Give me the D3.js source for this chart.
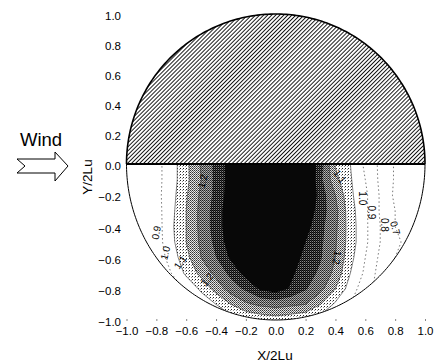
<!DOCTYPE html>
<html>
<head>
<meta charset="utf-8">
<script src="https://cdn.jsdelivr.net/npm/d3@7"></script>
<style>
  body { margin: 0; background: #fff; }
  text { font-family: Arial, "Liberation Sans", sans-serif; }
</style>
</head>
<body>
<svg id="chart" width="443" height="364"></svg>
<script>
const gridX = [-1.0, -0.9, -0.8, -0.7, -0.6, -0.5, -0.4, -0.3, -0.2, -0.1, 0.0,
               0.1, 0.2, 0.3, 0.4, 0.5, 0.6, 0.7, 0.8, 0.9, 1.0];
const gridY = [0.0, -0.1, -0.2, -0.3, -0.4, -0.5, -0.6, -0.7, -0.8, -0.9, -1.0];
const ratio = [
  [0.80,0.82,0.87,0.95,1.075,1.21,1.33,1.45,1.55,1.60,1.60,1.60,1.52,1.35,1.09,1.00,0.88,0.78,0.69,0.66,0.64],
  [0.80,0.82,0.87,0.95,1.075,1.20,1.33,1.45,1.56,1.62,1.62,1.62,1.54,1.33,1.13,1.01,0.90,0.78,0.69,0.66,0.64],
  [0.80,0.82,0.87,0.96,1.09,1.22,1.33,1.46,1.57,1.63,1.64,1.62,1.52,1.36,1.20,1.02,0.92,0.79,0.68,0.65,0.63],
  [0.80,0.82,0.86,0.97,1.10,1.23,1.35,1.47,1.57,1.63,1.64,1.60,1.48,1.35,1.23,1.04,0.92,0.79,0.70,0.66,0.64],
  [0.79,0.81,0.85,0.98,1.10,1.23,1.35,1.47,1.56,1.62,1.62,1.57,1.44,1.33,1.22,1.05,0.92,0.80,0.70,0.66,0.64],
  [0.79,0.81,0.85,0.97,1.10,1.22,1.33,1.46,1.55,1.60,1.59,1.52,1.40,1.32,1.21,1.05,0.92,0.80,0.72,0.67,0.65],
  [0.78,0.80,0.84,0.94,1.07,1.20,1.30,1.42,1.51,1.55,1.53,1.46,1.37,1.31,1.20,1.03,0.90,0.78,0.70,0.66,0.64],
  [0.76,0.78,0.82,0.90,1.02,1.13,1.23,1.33,1.44,1.49,1.49,1.42,1.35,1.28,1.17,1.00,0.88,0.76,0.70,0.66,0.64],
  [0.74,0.76,0.80,0.83,0.92,1.02,1.14,1.25,1.32,1.42,1.45,1.39,1.31,1.23,1.10,0.95,0.84,0.76,0.70,0.66,0.64],
  [0.70,0.72,0.74,0.78,0.85,0.93,1.00,1.10,1.18,1.22,1.24,1.22,1.20,1.10,0.98,0.90,0.82,0.76,0.70,0.66,0.64],
  [0.66,0.68,0.70,0.72,0.76,0.82,0.88,0.95,1.00,1.03,1.05,1.03,1.00,0.95,0.88,0.82,0.76,0.72,0.68,0.66,0.64]
];
const levels = [0.7, 0.8, 0.9, 1.0, 1.1, 1.2, 1.3, 1.4];
const xTicks = [-1.0, -0.8, -0.6, -0.4, -0.2, 0.0, 0.2, 0.4, 0.6, 0.8, 1.0];
const yTicks = [-1.0, -0.8, -0.6, -0.4, -0.2, 0.0, 0.2, 0.4, 0.6, 0.8, 1.0];
// contour labels: text, place (data units), rotation
const labelText = ["1.2", "1.1", "1.0", "0.9", "0.8", "0.7", "0.9", "1.0", "1.1", "1.2", "1.2"];
const labelX    = [-0.49, 0.43, 0.58, 0.64, 0.73, 0.80, -0.80, -0.74, -0.64, -0.46, 0.41];
const labelY    = [-0.11, -0.08, -0.22, -0.31, -0.39, -0.41, -0.44, -0.57, -0.63, -0.74, -0.60];
const labelRot  = [-75, 55, 90, 90, 90, 75, -80, -75, -55, -50, 100];

var svg = d3.select("#chart");

var x = d3.scaleLinear().domain([-1, 1]).range([126.5, 425]);
var y = d3.scaleLinear().domain([-1, 0, 1]).range([320, 164, 14]);

var defs = svg.append("defs");

// halftone fills, one per band
function halftone(id, w, h, cells) {
  var p = defs.append("pattern")
      .attr("id", id)
      .attr("patternUnits", "userSpaceOnUse")
      .attr("width", w).attr("height", h);
  cells.forEach(function(c) {
    p.append("rect").attr("x", c[0]).attr("y", c[1])
      .attr("width", 1).attr("height", 1)
      .attr("fill", c[2]).attr("shape-rendering", "crispEdges");
  });
}
halftone("p10", 3, 3, [[0,0,"#fff"],[1,0,"#fff"],[2,0,"#fff"],[0,1,"#fff"],[1,1,"#fff"],[2,1,"#fff"],[0,2,"#fff"],[1,2,"#fff"],[2,2,"#fff"],
                       [0,0,"#222"],[2,1,"#999"]]);
halftone("p11", 2, 2, [[0,0,"#333"],[1,0,"#ddd"],[0,1,"#eee"],[1,1,"#666"]]);
halftone("p12", 2, 2, [[0,0,"#222"],[1,0,"#999"],[0,1,"#bbb"],[1,1,"#444"]]);
halftone("p13", 2, 2, [[0,0,"#000"],[1,0,"#333"],[0,1,"#888"],[1,1,"#111"]]);

var hatch = defs.append("pattern")
    .attr("id", "hatch")
    .attr("patternUnits", "userSpaceOnUse")
    .attr("width", 2.85).attr("height", 2.85)
    .attr("patternTransform", "rotate(45)");
hatch.append("rect").attr("width", 2.85).attr("height", 2.85).attr("fill", "#fff");
hatch.append("line").attr("x1", 0.5).attr("y1", 0).attr("x2", 0.5).attr("y2", 2.85)
    .attr("stroke", "#111").attr("stroke-width", 0.95);

// circle outline, upper and lower half
var arc = d3.line().x(function(a) { return x(Math.cos(a)); }).y(function(a) { return y(Math.sin(a)); });
var upperAngles = d3.range(0, 181).map(function(d) { return d * Math.PI / 180; });
var lowerAngles = d3.range(180, 361).map(function(d) { return d * Math.PI / 180; });

defs.append("clipPath").attr("id", "lower")
  .append("path").attr("d", arc(lowerAngles) + "Z");

// contours
var nx = gridX.length, ny = gridY.length;
var stepX = gridX[1] - gridX[0], stepY = gridY[1] - gridY[0];
var contours = d3.contours().size([nx, ny]).thresholds(levels)(ratio.flat());
var proj = d3.geoTransform({
  point: function(px, py) {
    this.stream.point(x(gridX[0] + (px - 0.5) * stepX), y(gridY[0] + (py - 0.5) * stepY));
  }
});
var path = d3.geoPath(proj);

var fills = { "1": "url(#p10)", "1.1": "url(#p11)", "1.2": "url(#p12)", "1.3": "url(#p13)", "1.4": "#080808" };

var g = svg.append("g").attr("clip-path", "url(#lower)");

g.selectAll("path.band")
  .data(contours.filter(function(c) { return fills[String(c.value)]; }))
  .join("path")
    .attr("class", "band")
    .attr("d", path)
    .attr("fill", function(c) { return fills[String(c.value)]; })
    .attr("stroke", "none");

g.selectAll("path.iso")
  .data(contours.filter(function(c) { return c.value <= 1.2; }))
  .join("path")
    .attr("class", "iso")
    .attr("d", path)
    .attr("fill", "none")
    .attr("stroke", function(c) { return c.value < 1 ? "#555" : "#333"; })
    .attr("stroke-width", function(c) { return c.value < 1 ? 0.8 : 0.6; })
    .attr("stroke-dasharray", function(c) { return c.value < 1 ? "1.5,2.5" : null; });

// contour labels
svg.selectAll("text.clab")
  .data(labelText)
  .join("text")
    .attr("class", "clab")
    .attr("transform", function(d, i) {
      return "translate(" + x(labelX[i]) + "," + y(labelY[i]) + ") rotate(" + labelRot[i] + ")";
    })
    .attr("text-anchor", "middle")
    .attr("dy", "0.35em")
    .attr("font-size", 10)
    .attr("fill", "#000")
    .text(function(d) { return d; });

// upper hatched half
svg.append("path")
  .attr("d", arc(upperAngles) + "Z")
  .attr("fill", "url(#hatch)")
  .attr("stroke", "none");

svg.append("path")
  .attr("d", arc(lowerAngles))
  .attr("fill", "none").attr("stroke", "#000").attr("stroke-width", 1);
svg.append("path")
  .attr("d", arc(upperAngles))
  .attr("fill", "none").attr("stroke", "#000").attr("stroke-width", 1.6);
svg.append("line")
  .attr("x1", x(-1)).attr("x2", x(1)).attr("y1", y(0)).attr("y2", y(0))
  .attr("stroke", "#000").attr("stroke-width", 2);

// axes
var xAxis = svg.append("g")
  .attr("transform", "translate(0," + 321 + ")")
  .call(d3.axisBottom(x).tickValues(xTicks).tickFormat(d3.format(".1f")).tickSizeInner(-2).tickSizeOuter(0).tickPadding(6));
xAxis.select(".domain").remove();
xAxis.selectAll(".tick line").attr("stroke", "#888");
xAxis.selectAll("text").attr("font-size", 11.5).attr("fill", "#000");

var yAxis = svg.append("g")
  .attr("transform", "translate(" + x(-1) + ",0)")
  .call(d3.axisLeft(y).tickValues(yTicks).tickFormat(d3.format(".1f")).tickSize(0).tickPadding(5.5));
yAxis.select(".domain").remove();
yAxis.selectAll("text").attr("font-size", 11.5).attr("fill", "#000").attr("dy", "0.5em");

svg.append("text")
  .attr("x", 275).attr("y", 360)
  .attr("text-anchor", "middle")
  .attr("font-size", 13.5)
  .text("X/2Lu");

svg.append("text")
  .attr("transform", "translate(92,177) rotate(-90)")
  .attr("text-anchor", "middle")
  .attr("font-size", 13.5)
  .text("Y/2Lu");

// wind arrow
svg.append("text")
  .attr("x", 20).attr("y", 146)
  .attr("font-size", 18.5)
  .text("Wind");

svg.append("path")
  .attr("d", "M17,159 L55,159 L55,152 L68,166 L55,181 L55,173 L17,173 L25,166 Z")
  .attr("fill", "#fff").attr("stroke", "#000").attr("stroke-width", 1);
</script>
</body>
</html>
